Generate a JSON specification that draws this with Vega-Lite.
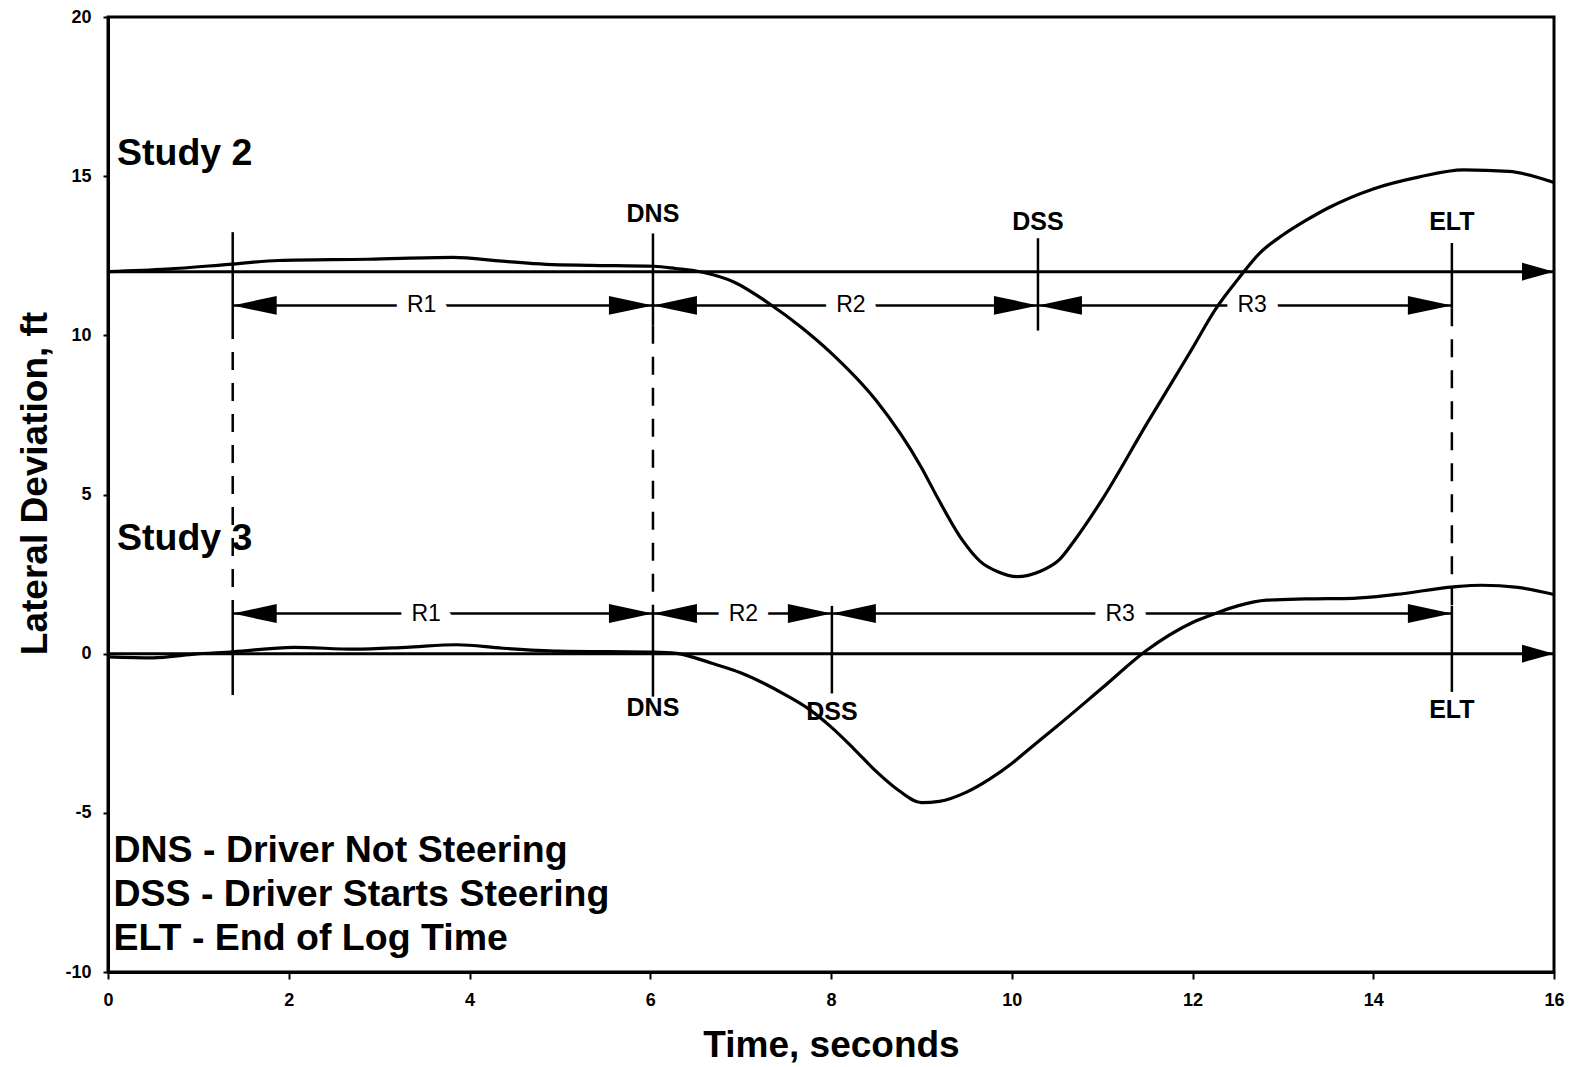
{
  "$schema": "https://vega.github.io/schema/vega-lite/v6.json",
  "width": 1446,
  "height": 955,
  "autosize": {"type": "none"},
  "padding": {"left": 108, "top": 17, "right": 21, "bottom": 95},
  "background": "white",
  "datasets": {
    "curves": [
      {"study": "Study 2", "t": 0, "dev": 12.0},
      {"study": "Study 2", "t": 0.65, "dev": 12.08},
      {"study": "Study 2", "t": 1.34, "dev": 12.23},
      {"study": "Study 2", "t": 1.89, "dev": 12.35},
      {"study": "Study 2", "t": 2.88, "dev": 12.39},
      {"study": "Study 2", "t": 3.82, "dev": 12.45},
      {"study": "Study 2", "t": 4.36, "dev": 12.33},
      {"study": "Study 2", "t": 4.85, "dev": 12.23},
      {"study": "Study 2", "t": 5.34, "dev": 12.2},
      {"study": "Study 2", "t": 6.04, "dev": 12.17},
      {"study": "Study 2", "t": 6.28, "dev": 12.1},
      {"study": "Study 2", "t": 6.58, "dev": 11.98},
      {"study": "Study 2", "t": 6.93, "dev": 11.67},
      {"study": "Study 2", "t": 7.33, "dev": 10.97},
      {"study": "Study 2", "t": 7.66, "dev": 10.28},
      {"study": "Study 2", "t": 8.0, "dev": 9.45},
      {"study": "Study 2", "t": 8.5, "dev": 7.95},
      {"study": "Study 2", "t": 9.0, "dev": 5.85},
      {"study": "Study 2", "t": 9.19, "dev": 4.84},
      {"study": "Study 2", "t": 9.45, "dev": 3.58},
      {"study": "Study 2", "t": 9.65, "dev": 2.9},
      {"study": "Study 2", "t": 9.84, "dev": 2.58},
      {"study": "Study 2", "t": 10.06, "dev": 2.42},
      {"study": "Study 2", "t": 10.31, "dev": 2.58},
      {"study": "Study 2", "t": 10.53, "dev": 2.96},
      {"study": "Study 2", "t": 10.7, "dev": 3.58},
      {"study": "Study 2", "t": 11.0, "dev": 4.84},
      {"study": "Study 2", "t": 11.5, "dev": 7.25},
      {"study": "Study 2", "t": 11.82, "dev": 8.75},
      {"study": "Study 2", "t": 12.0, "dev": 9.6},
      {"study": "Study 2", "t": 12.25, "dev": 10.8},
      {"study": "Study 2", "t": 12.5, "dev": 11.75},
      {"study": "Study 2", "t": 12.75, "dev": 12.6},
      {"study": "Study 2", "t": 13.0, "dev": 13.15},
      {"study": "Study 2", "t": 13.25, "dev": 13.6},
      {"study": "Study 2", "t": 13.5, "dev": 14.0},
      {"study": "Study 2", "t": 14.0, "dev": 14.6},
      {"study": "Study 2", "t": 14.5, "dev": 14.97},
      {"study": "Study 2", "t": 15.0, "dev": 15.2},
      {"study": "Study 2", "t": 15.5, "dev": 15.15},
      {"study": "Study 2", "t": 16.0, "dev": 14.8},
      {"study": "Study 3", "t": 0, "dev": -0.1},
      {"study": "Study 3", "t": 0.5, "dev": -0.13},
      {"study": "Study 3", "t": 0.93, "dev": -0.02},
      {"study": "Study 3", "t": 1.38, "dev": 0.06},
      {"study": "Study 3", "t": 2.06, "dev": 0.2},
      {"study": "Study 3", "t": 2.73, "dev": 0.14},
      {"study": "Study 3", "t": 3.3, "dev": 0.2},
      {"study": "Study 3", "t": 3.86, "dev": 0.28},
      {"study": "Study 3", "t": 4.37, "dev": 0.17},
      {"study": "Study 3", "t": 4.99, "dev": 0.08},
      {"study": "Study 3", "t": 6.04, "dev": 0.05},
      {"study": "Study 3", "t": 6.29, "dev": 0.01},
      {"study": "Study 3", "t": 6.68, "dev": -0.3},
      {"study": "Study 3", "t": 7.0, "dev": -0.6},
      {"study": "Study 3", "t": 7.25, "dev": -0.92},
      {"study": "Study 3", "t": 7.5, "dev": -1.3},
      {"study": "Study 3", "t": 7.76, "dev": -1.75},
      {"study": "Study 3", "t": 8.0, "dev": -2.3},
      {"study": "Study 3", "t": 8.25, "dev": -2.98},
      {"study": "Study 3", "t": 8.5, "dev": -3.7},
      {"study": "Study 3", "t": 8.75, "dev": -4.3},
      {"study": "Study 3", "t": 9.0, "dev": -4.68},
      {"study": "Study 3", "t": 9.2, "dev": -4.64},
      {"study": "Study 3", "t": 9.5, "dev": -4.35},
      {"study": "Study 3", "t": 9.75, "dev": -3.95},
      {"study": "Study 3", "t": 10.0, "dev": -3.45},
      {"study": "Study 3", "t": 10.19, "dev": -3.0},
      {"study": "Study 3", "t": 10.5, "dev": -2.28},
      {"study": "Study 3", "t": 11.0, "dev": -1.08},
      {"study": "Study 3", "t": 11.49, "dev": 0.1},
      {"study": "Study 3", "t": 12.0, "dev": 0.98},
      {"study": "Study 3", "t": 12.25, "dev": 1.26},
      {"study": "Study 3", "t": 12.5, "dev": 1.5},
      {"study": "Study 3", "t": 12.82, "dev": 1.68},
      {"study": "Study 3", "t": 13.25, "dev": 1.72},
      {"study": "Study 3", "t": 13.78, "dev": 1.74},
      {"study": "Study 3", "t": 14.25, "dev": 1.86},
      {"study": "Study 3", "t": 14.89, "dev": 2.1},
      {"study": "Study 3", "t": 15.2, "dev": 2.15},
      {"study": "Study 3", "t": 15.6, "dev": 2.08},
      {"study": "Study 3", "t": 16.0, "dev": 1.86}
    ],
    "baselines": [
      {"study": "Study 2", "dev": 12},
      {"study": "Study 3", "dev": 0}
    ],
    "markers": [
      {"study": "Study 2", "label": "", "t": 1.38, "top": 13.24, "bottom": 10.45, "labelDev": 13.8},
      {"study": "Study 2", "label": "DNS", "t": 6.03, "top": 13.2, "bottom": 10.3, "labelDev": 13.8},
      {"study": "Study 2", "label": "DSS", "t": 10.29, "top": 13.05, "bottom": 10.15, "labelDev": 13.57},
      {"study": "Study 2", "label": "ELT", "t": 14.87, "top": 12.9, "bottom": 10.85, "labelDev": 13.55},
      {"study": "Study 3", "label": "", "t": 1.38, "top": 1.5, "bottom": -1.3, "labelDev": -1.7},
      {"study": "Study 3", "label": "DNS", "t": 6.03, "top": 1.5, "bottom": -1.35, "labelDev": -1.7},
      {"study": "Study 3", "label": "DSS", "t": 8.01, "top": 1.5, "bottom": -1.25, "labelDev": -1.82},
      {"study": "Study 3", "label": "ELT", "t": 14.87, "top": 1.5, "bottom": -1.2, "labelDev": -1.76}
    ],
    "links": [
      {"t": 1.38, "top": 10.45, "bottom": 1.5},
      {"t": 6.03, "top": 10.3, "bottom": 1.5},
      {"t": 14.87, "top": 10.85, "bottom": 1.5}
    ],
    "spans": [
      {"study": "Study 2", "name": "R1", "t0": 1.38, "t1": 6.03, "dev": 10.94, "tl": 3.47},
      {"study": "Study 2", "name": "R2", "t0": 6.03, "t1": 10.29, "dev": 10.94, "tl": 8.22},
      {"study": "Study 2", "name": "R3", "t0": 10.29, "t1": 14.87, "dev": 10.94, "tl": 12.66},
      {"study": "Study 3", "name": "R1", "t0": 1.38, "t1": 6.03, "dev": 1.26, "tl": 3.52},
      {"study": "Study 3", "name": "R2", "t0": 6.03, "t1": 8.01, "dev": 1.26, "tl": 7.03},
      {"study": "Study 3", "name": "R3", "t0": 8.01, "t1": 14.87, "dev": 1.26, "tl": 11.2}
    ],
    "notes": [
      {"text": "Study 2", "t": 0.1, "dev": 15.35},
      {"text": "Study 3", "t": 0.1, "dev": 3.27},
      {"text": "DNS - Driver Not Steering", "t": 0.06, "dev": -6.54},
      {"text": "DSS - Driver Starts Steering", "t": 0.06, "dev": -7.92},
      {"text": "ELT - End of Log Time", "t": 0.06, "dev": -9.31}
    ]
  },
  "layer": [
    {
      "data": {"name": "spans"},
      "mark": {"type": "rule", "color": "black", "strokeWidth": 2.5},
      "encoding": {
        "x": {
          "field": "t0", "type": "quantitative",
          "scale": {"domain": [0, 16], "nice": false, "zero": false},
          "axis": {
            "title": "Time, seconds",
            "values": [0, 2, 4, 6, 8, 10, 12, 14, 16],
            "format": "d",
            "tickSize": 7, "tickWidth": 2,
            "labelFontSize": 18, "labelPadding": 12,
            "labelFlush": false, "labelOverlap": false,
            "titleFontSize": 37, "titlePadding": 18
          }
        },
        "x2": {"field": "t1"},
        "y": {
          "field": "dev", "type": "quantitative",
          "scale": {"domain": [-10, 20], "nice": false, "zero": false},
          "axis": {
            "title": "Lateral Deviation, ft",
            "values": [-10, -5, 0, 5, 10, 15, 20],
            "format": "d",
            "tickSize": 5, "tickWidth": 2,
            "labelFontSize": 18, "labelPadding": 12,
            "labelFlush": false, "labelOverlap": false,
            "titleFontSize": 37,
            "titleAngle": 270, "titleAlign": "center", "titleBaseline": "alphabetic",
            "titleX": -62, "titleY": 466
          }
        }
      }
    },
    {
      "data": {"name": "spans"},
      "mark": {"type": "text", "font": "Liberation Sans", "fontSize": 23, "fill": "white", "stroke": "white", "strokeWidth": 24, "strokeJoin": "round", "align": "center", "baseline": "middle"},
      "encoding": {
        "x": {"field": "tl", "type": "quantitative"},
        "y": {"field": "dev", "type": "quantitative"},
        "text": {"field": "name"}
      }
    },
    {
      "data": {"name": "spans"},
      "mark": {"type": "text", "font": "Liberation Sans", "fontSize": 23, "color": "black", "align": "center", "baseline": "middle"},
      "encoding": {
        "x": {"field": "tl", "type": "quantitative"},
        "y": {"field": "dev", "type": "quantitative"},
        "text": {"field": "name"}
      }
    },
    {
      "data": {"name": "spans"},
      "transform": [{"fold": ["t0", "t1"], "as": ["end", "tip"]}],
      "mark": {"type": "point", "filled": true, "color": "black", "opacity": 1, "strokeWidth": 0, "size": 1936},
      "encoding": {
        "x": {"field": "tip", "type": "quantitative"},
        "y": {"field": "dev", "type": "quantitative"},
        "shape": {
          "field": "end", "type": "nominal", "legend": null,
          "scale": {"domain": ["t0", "t1"], "range": ["M0,0L2,-0.43L2,0.43Z", "M0,0L-2,-0.43L-2,0.43Z"]}
        }
      }
    },
    {
      "data": {"name": "baselines"},
      "mark": {"type": "rule", "color": "black", "strokeWidth": 3},
      "encoding": {
        "y": {"field": "dev", "type": "quantitative"}
      }
    },
    {
      "data": {"name": "baselines"},
      "mark": {"type": "point", "shape": "M0,0L-2,-0.56L-2,0.56Z", "size": 1024, "filled": true, "color": "black", "opacity": 1, "strokeWidth": 0},
      "encoding": {
        "x": {"datum": 16, "type": "quantitative"},
        "y": {"field": "dev", "type": "quantitative"}
      }
    },
    {
      "data": {"name": "markers"},
      "mark": {"type": "rule", "color": "black", "strokeWidth": 2.5},
      "encoding": {
        "x": {"field": "t", "type": "quantitative"},
        "y": {"field": "top", "type": "quantitative"},
        "y2": {"field": "bottom"}
      }
    },
    {
      "data": {"name": "links"},
      "mark": {"type": "rule", "color": "black", "strokeWidth": 2.5, "strokeDash": [18, 13]},
      "encoding": {
        "x": {"field": "t", "type": "quantitative"},
        "y": {"field": "top", "type": "quantitative"},
        "y2": {"field": "bottom"}
      }
    },
    {
      "data": {"name": "markers"},
      "transform": [{"filter": "datum.label != ''"}],
      "mark": {"type": "text", "font": "Liberation Sans", "fontSize": 25, "fontWeight": "bold", "color": "black", "align": "center", "baseline": "middle"},
      "encoding": {
        "x": {"field": "t", "type": "quantitative"},
        "y": {"field": "labelDev", "type": "quantitative"},
        "text": {"field": "label"}
      }
    },
    {
      "data": {"name": "curves"},
      "mark": {"type": "line", "color": "black", "strokeWidth": 3.2, "interpolate": "monotone"},
      "encoding": {
        "x": {"field": "t", "type": "quantitative"},
        "y": {"field": "dev", "type": "quantitative"},
        "detail": {"field": "study"}
      }
    },
    {
      "data": {"name": "notes"},
      "mark": {"type": "text", "font": "Liberation Sans", "fontSize": 37.5, "fontWeight": "bold", "color": "black", "align": "left", "baseline": "alphabetic"},
      "encoding": {
        "x": {"field": "t", "type": "quantitative"},
        "y": {"field": "dev", "type": "quantitative"},
        "text": {"field": "text"}
      }
    }
  ],
  "config": {
    "font": "Liberation Sans",
    "locale": {"number": {"decimal": ".", "thousands": ",", "grouping": [3], "currency": ["$", ""], "minus": "-"}},
    "view": {"stroke": "black", "strokeWidth": 3},
    "axis": {
      "grid": false,
      "domainColor": "black", "domainWidth": 3,
      "tickColor": "black",
      "labelColor": "black", "labelFont": "Liberation Sans", "labelFontWeight": "bold",
      "titleColor": "black", "titleFont": "Liberation Sans", "titleFontWeight": "bold"
    }
  }
}
